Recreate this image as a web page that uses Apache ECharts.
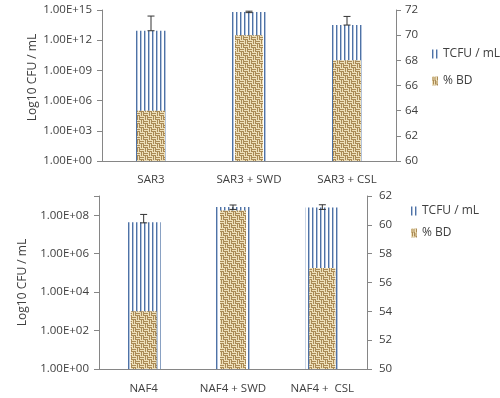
<!DOCTYPE html>
<html>
<head>
<meta charset="utf-8">
<script src="https://cdn.jsdelivr.net/npm/echarts@6/dist/echarts.min.js"></script>
<style>
  html, body { margin: 0; padding: 0; background: #fff; }
  #chart { width: 500px; height: 398px; }
</style>
</head>
<body>
<div id="chart"></div>
<script>
var catsTop = ['SAR3', 'SAR3 + SWD', 'SAR3 + CSL'];
var catsBot = ['NAF4', 'NAF4 + SWD', 'NAF4 +  CSL'];

// TCFU / mL (left, log) and error bar ends
var tcfuTop = [8.7e12, 6.3e14, 3.2e13];
var tcfuTopLo = [8.7e12, 5.5e14, 3.2e13];
var tcfuTopHi = [2.5e14, 7.6e14, 2.3e14];
var tcfuBot = [4.3e7, 2.7e8, 2.5e8];
var tcfuBotLo = [4.0e7, 2.0e8, 2.0e8];
var tcfuBotHi = [1.1e8, 3.4e8, 3.5e8];

// % BD (right axis)
var bdTop = [64, 70, 68];
var bdBot = [54, 61, 57];

var txt = '#404040';
var axisGray = '#868686';
var font = 'Open Sans';

function linesPattern() {
    var c = document.createElement('canvas');
    c.width = 4; c.height = 4;
    var g = c.getContext('2d');
    g.fillStyle = '#ffffff';
    g.fillRect(0, 0, 4, 4);
    g.fillStyle = '#4e72a6';
    g.fillRect(0, 0, 1, 4);
    g.fillStyle = '#b4c4dc';
    g.fillRect(1, 0, 1, 4);
    return c;
}

function weavePattern() {
    var c = document.createElement('canvas');
    c.width = 8; c.height = 8;
    var g = c.getContext('2d');
    g.fillStyle = '#d4bb86';
    g.fillRect(0, 0, 8, 8);
    var light = '#eee0ba', dark = '#aa8a55';
    // horizontal stripes in two quadrants, vertical in the others
    for (var i = 0; i < 4; i++) {
        var col = (i % 2 === 0) ? light : dark;
        g.fillStyle = col;
        g.fillRect(0, i, 4, 1);
        g.fillRect(4, 4 + i, 4, 1);
        g.fillRect(4 + i, 0, 1, 4);
        g.fillRect(i, 4, 1, 4);
    }
    return c;
}

var tcfuColor = { image: linesPattern(), repeat: 'repeat' };
var bdColor = { image: weavePattern(), repeat: 'repeat' };

function expLabel(v) {
    var e = Math.round(Math.log(v) / Math.LN10);
    return '1.00E+' + (e < 10 ? '0' + e : e);
}

function errorItem(params, api) {
    var x = api.value(0);
    var lo = api.coord([x, api.value(1)]);
    var hi = api.coord([x, api.value(2)]);
    var w = 3.5;
    var st = { stroke: '#333', lineWidth: 1 };
    return {
        type: 'group',
        children: [
            { type: 'line', shape: { x1: hi[0], y1: hi[1], x2: lo[0], y2: lo[1] }, style: st },
            { type: 'line', shape: { x1: hi[0] - w, y1: hi[1], x2: hi[0] + w, y2: hi[1] }, style: st },
            { type: 'line', shape: { x1: lo[0] - w, y1: lo[1], x2: lo[0] + w, y2: lo[1] }, style: st }
        ]
    };
}

function errData(lo, hi) {
    return lo.map(function (v, i) { return [i, v, hi[i]]; });
}

function catAxis(grid, cats, margin) {
    return {
        gridIndex: grid, type: 'category', data: cats,
        axisLine: { lineStyle: { color: axisGray } },
        axisTick: { length: 5, lineStyle: { color: axisGray } },
        axisLabel: { color: txt, fontFamily: font, fontSize: 11.5, margin: margin }
    };
}

function hiddenAxis(grid, cats) {
    return { gridIndex: grid, type: 'category', data: cats, show: false };
}

function logAxis(grid, max, step, gap, shift) {
    return {
        gridIndex: grid, type: 'log', logBase: 10, min: 1, max: max, interval: step,
        position: 'left',
        name: 'Log10 CFU / mL', nameLocation: 'middle', nameGap: gap,
        nameMoveOverlap: false,
        nameTextStyle: { color: txt, fontFamily: font, fontSize: 12, padding: [0, 0, 0, shift] },
        axisLine: { show: true, lineStyle: { color: axisGray } },
        axisTick: { show: true, length: 5, lineStyle: { color: axisGray } },
        splitLine: { show: false },
        axisLabel: {
            color: txt, fontFamily: font, fontSize: 11.5, margin: 10,
            formatter: function (v) {
                var e = Math.round(Math.log(v) / Math.LN10);
                return e % step === 0 ? expLabel(v) : '';
            }
        }
    };
}

function pctAxis(grid, min, max, margin) {
    return {
        gridIndex: grid, type: 'value', min: min, max: max, interval: 2,
        startValue: min, position: 'right',
        axisLine: { show: true, lineStyle: { color: axisGray } },
        axisTick: { show: true, length: 5, lineStyle: { color: axisGray } },
        splitLine: { show: false },
        axisLabel: { color: txt, fontFamily: font, fontSize: 11.5, margin: margin }
    };
}

function legendAt(left, top, gap) {
    return {
        data: ['TCFU / mL', '% BD'], orient: 'vertical', left: left, top: top,
        icon: 'rect', itemWidth: 6, itemHeight: 9, itemGap: gap,
        textStyle: { color: txt, fontFamily: font, fontSize: 12 },
        selectedMode: false
    };
}

var chart = echarts.init(document.getElementById('chart'));
chart.setOption({
    animation: false,
    backgroundColor: '#fff',
    grid: [
        { left: 102, right: 104, top: 10, bottom: 237 },
        { left: 99, right: 133, top: 196, bottom: 29 }
    ],
    legend: [legendAt(427, 43, 15), legendAt(406, 200, 10)],
    xAxis: [
        catAxis(0, catsTop, 13), hiddenAxis(0, catsTop),
        catAxis(1, catsBot, 14), hiddenAxis(1, catsBot)
    ],
    yAxis: [
        logAxis(0, 1e15, 3, 63, 16),
        pctAxis(0, 60, 72, 9),
        logAxis(1, 1e9, 2, 70, 0),
        pctAxis(1, 50, 62, 12)
    ],
    series: [
        { name: 'TCFU / mL', type: 'bar', xAxisIndex: 0, yAxisIndex: 0, barWidth: 34,
          data: tcfuTop, itemStyle: { color: tcfuColor } },
        { name: '% BD', type: 'bar', xAxisIndex: 1, yAxisIndex: 1, barWidth: 28, clip: true,
          data: bdTop, itemStyle: { color: bdColor } },
        { name: 'errTop', type: 'custom', xAxisIndex: 0, yAxisIndex: 0, z: 5,
          renderItem: errorItem, data: errData(tcfuTopLo, tcfuTopHi) },
        { name: 'TCFU / mL', type: 'bar', xAxisIndex: 2, yAxisIndex: 2, barWidth: 34,
          data: tcfuBot, itemStyle: { color: tcfuColor } },
        { name: '% BD', type: 'bar', xAxisIndex: 3, yAxisIndex: 3, barWidth: 26, clip: true,
          data: bdBot, itemStyle: { color: bdColor } },
        { name: 'errBot', type: 'custom', xAxisIndex: 2, yAxisIndex: 2, z: 5,
          renderItem: errorItem, data: errData(tcfuBotLo, tcfuBotHi) }
    ]
});
</script>
</body>
</html>
